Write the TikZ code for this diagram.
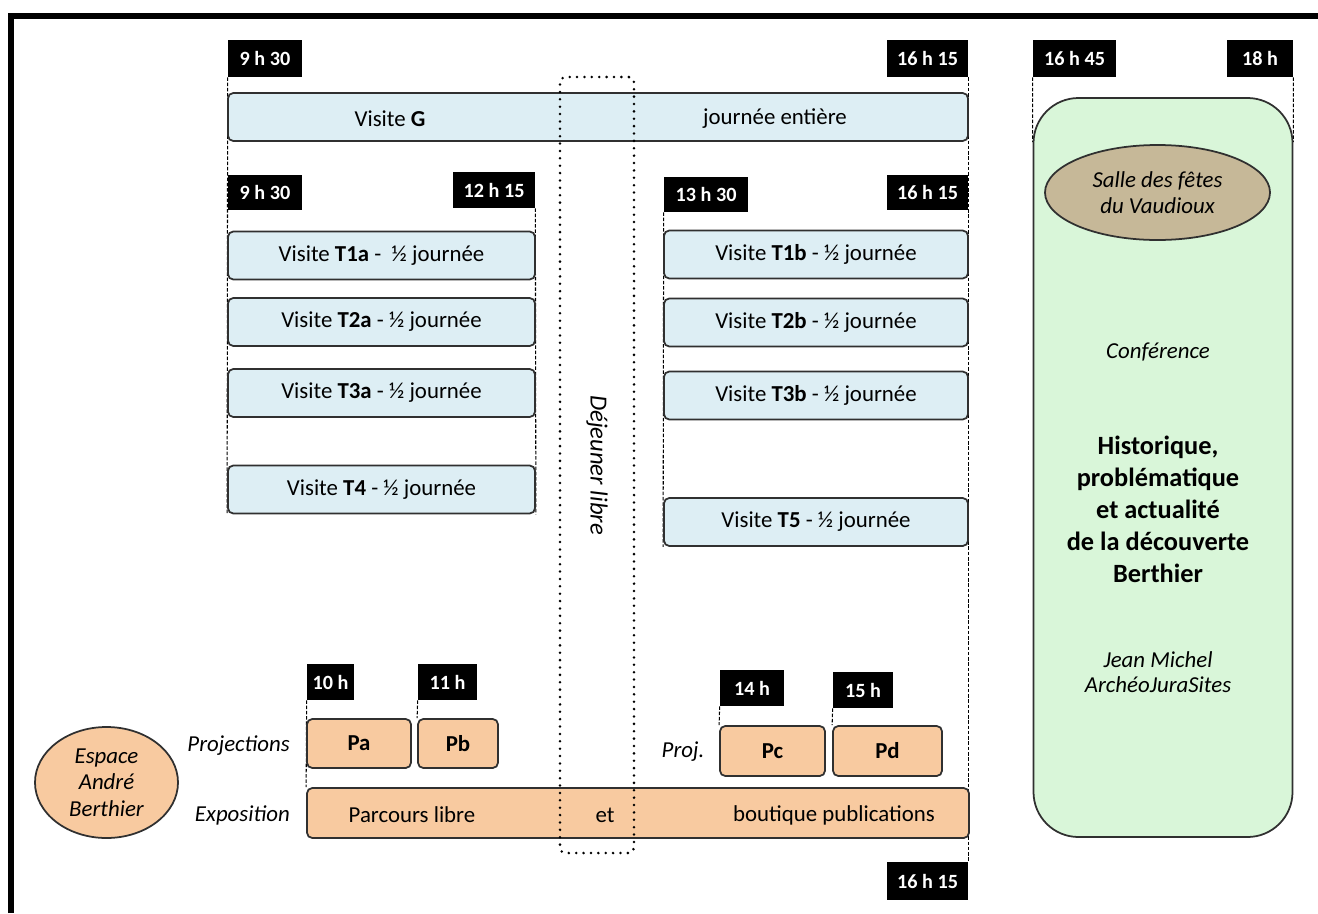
\documentclass[tikz,border=0pt]{standalone}
\usepackage{fontspec}
\setmainfont{Carlito}
\usetikzlibrary{shapes.geometric,backgrounds}
\definecolor{rahmen}{HTML}{303030}
\definecolor{hellblau}{HTML}{DDEEF4}
\definecolor{apricot}{HTML}{F8CAA0}
\definecolor{hellgruen}{HTML}{D9F6D9}
\definecolor{sand}{HTML}{C6B898}
\tikzset{
	masse/.style 2 args={minimum width=#1*0.02cm,minimum height=#2*0.02cm},
	zeit/.style={fill=black,text=white,inner sep=0pt,font=\fontsize{11.5}{13}\selectfont\bfseries},
	visite/.style={draw=rahmen,fill=hellblau,line width=1pt,rounded corners=3pt,inner sep=0pt,font=\fontsize{13}{15}\selectfont},
	projektion/.style={visite,fill=apricot,font=\fontsize{13}{15}\selectfont\bfseries},
	schrift/.style={font=\fontsize{13}{15}\selectfont},
	kursiv/.style={font=\fontsize{13}{15}\selectfont\itshape,align=center},
	strich/.style={draw=black,line width=0.6pt,dash pattern=on 2pt off 1pt},
	punkte/.style={draw=black,line width=1.6pt,dash pattern=on 0pt off 4.2pt,line cap=round},
}
\begin{document}
\begin{tikzpicture}[x=0.02cm,y=-0.02cm]
	\useasboundingbox (0,0) rectangle (1318,913);
	\draw[line width=3pt] (11,913) -- (11,16) -- (1318,16);
	% Uhrzeiten
	\node[zeit,masse={74}{37}] (z930) at (265,58.5) {9 h 30};
	\node[zeit,masse={81}{37}] (z1615) at (927.5,58.5) {16 h 15};
	\node[zeit,masse={83}{37}] (z1645) at (1074.5,58.5) {16 h 45};
	\node[zeit,masse={66}{37}] (z18) at (1260,58.5) {18 h};
	\node[zeit,masse={74}{35}] (z930b) at (265,192.5) {9 h 30};
	\node[zeit,masse={82}{36}] (z1215) at (494,190) {12 h 15};
	\node[zeit,masse={84}{35}] (z1330) at (706,194.5) {13 h 30};
	\node[zeit,masse={81}{35}] (z1615b) at (927.5,192.5) {16 h 15};
	\node[zeit,masse={47}{36}] (z10) at (330.5,682) {10 h};
	\node[zeit,masse={59}{36}] (z11) at (447.5,682) {11 h};
	\node[zeit,masse={64}{36}] (z14) at (752,688) {14 h};
	\node[zeit,masse={60}{36}] (z15) at (863,690) {15 h};
	\node[zeit,masse={81}{38}] (z1615c) at (927.5,881) {16 h 15};

	% Visites
	\node[visite,masse={740}{48}] (G) at (598,117) {};
	\node[schrift] (Gtext) at (390,119) {Visite \textbf{G}};
	\node[schrift] (Gganz) at (775,119) {journée entière};
	\foreach \n/\x/\y/\w/\t in {T1a/381.5/255.5/307/{Visite \textbf{T1a} -\ \ ½ journée},
		T2a/381.5/322/307/{Visite \textbf{T2a} - ½ journée},
		T3a/381.5/393/307/{Visite \textbf{T3a} - ½ journée},
		T4/381.5/489.5/307/{Visite \textbf{T4} - ½ journée},
		T1b/816/254.5/304/{Visite \textbf{T1b} - ½ journée},
		T2b/816/322.5/304/{Visite \textbf{T2b} - ½ journée},
		T3b/816/395.5/304/{Visite \textbf{T3b} - ½ journée},
		T5/816/522/304/{Visite \textbf{T5} - ½ journée}}
		\node[visite,masse={\w}{48}] (\n) at (\x,\y) {\t};

	% Espace Andre Berthier
	\node[projektion,masse={104}{49}] (Pa) at (359,743.5) {Pa};
	\node[projektion,masse={80}{49}] (Pb) at (458,743.5) {Pb};
	\node[projektion,masse={105}{50}] (Pc) at (772.5,751) {Pc};
	\node[projektion,masse={109}{50}] (Pd) at (887.5,751) {Pd};
	\node[visite,fill=apricot,masse={662}{50}] (expo) at (638,813) {};
	\node[schrift] (parcours) at (412,815) {Parcours libre};
	\node[schrift] (et) at (605,815) {et};
	\node[schrift] (boutique) at (834,815) {boutique publications};
	\node[kursiv,anchor=east] (proj) at (296,746) {Projections};
	\node[kursiv,anchor=east] (expotitel) at (296,815) {Exposition};
	\node[kursiv] (projkurz) at (683,752) {Proj.};
	\node[ellipse,draw=rahmen,fill=apricot,line width=1pt,inner sep=0pt,masse={143}{111},kursiv] (espace) at (106.5,782.5) {Espace\\André\\Berthier};

	% Dejeuner
	\node[punkte,rounded corners=3pt,masse={74}{776}] (dej) at (597,465) {};
	\node[kursiv,font=\fontsize{14}{16}\selectfont\itshape,rotate=-90] (dejtext) at (dej.center) {Déjeuner libre};

	% Conference
	\node[draw=rahmen,fill=hellgruen,line width=1pt,rounded corners=0.9cm,masse={259}{739}] (konf) at (1163,467.5) {};
	\node[ellipse,draw=rahmen,fill=sand,line width=1pt,inner sep=0pt,masse={225}{95},kursiv] (salle) at (1157.5,192.5) {Salle des fêtes\\du Vaudioux};
	\node[kursiv] (konftitel) at (1158,352) {Conférence};
	\node[font=\fontsize{15}{18.2}\selectfont\bfseries,align=center] (thema) at (1158,509) {Historique,\\problématique\\et actualité\\de la découverte\\Berthier};
	\node[kursiv,font=\fontsize{13}{14.2}\selectfont\itshape] (redner) at (1158,672) {Jean Michel\\ArchéoJuraSites};

	\begin{pgfonlayer}{background}
		\draw[strich] (z930.south west) -- (T4.south west);
		\draw[strich] (z1215.south east) -- (T4.south east);
		\draw[strich] (z1330.south west) -- (T5.south west);
		\draw[strich] (z1615.south east) -- (z1615c.north east);
		\draw[strich] (z1645.south west) -- ([yshift=-0.9cm]konf.north west);
		\draw[strich] (z18.south east) -- ([yshift=-0.9cm]konf.north east);
		\draw[strich] (z10.south west) -- (expo.north west);
		\draw[strich] (z11.south west) -- (Pb.north west);
		\draw[strich] (z14.south west) -- (Pc.north west);
		\draw[strich] (z15.south west) -- (Pd.north west);
	\end{pgfonlayer}
\end{tikzpicture}
\end{document}
